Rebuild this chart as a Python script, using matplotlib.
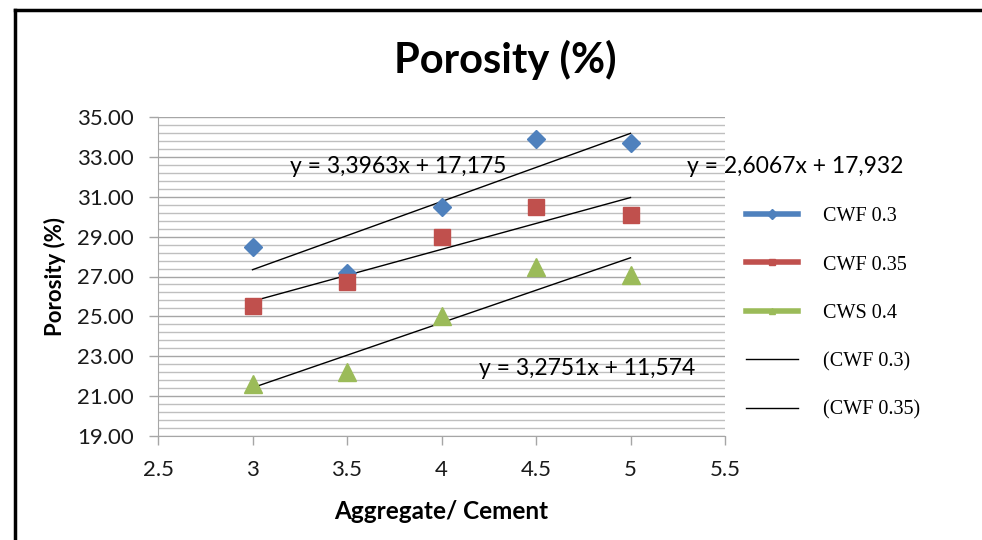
import matplotlib
matplotlib.use("Agg")
import matplotlib.pyplot as plt
import numpy as np
from matplotlib.lines import Line2D
from matplotlib.ticker import MultipleLocator, FixedLocator, FormatStrFormatter

x_vals = [3.0, 3.5, 4.0, 4.5, 5.0]
cwf03 = [28.5, 27.2, 30.5, 33.9, 33.7]
cwf035 = [25.5, 26.7, 29.0, 30.5, 30.1]
cws04 = [21.6, 22.2, 25.0, 27.5, 27.1]
series_names = ["CWF 0.3", "CWF 0.35", "CWS 0.4"]
trend_names = ["(CWF 0.3)", "(CWF 0.35)"]
eq_texts = ["y = 3,3963x + 17,175", "y = 2,6067x + 17,932", "y = 3,2751x + 11,574"]

colors = ["#4F81BD", "#C0504D", "#9BBB59"]
markers = ["D", "s", "^"]
msizes = [9, 12, 12.5]

plt.rcParams['font.family'] = ['Lato', 'DejaVu Sans']

fig = plt.figure(figsize=(9.82, 5.4), dpi=100)
ax = fig.add_axes([158/982, 1-436/540, (725-158)/982, (436-117)/540])

data = [cwf03, cwf035, cws04]
xs = np.array(x_vals)
for ys, c, m, ms in zip(data, colors, markers, msizes):
    ax.plot(xs, ys, linestyle='none', marker=m, markersize=ms, color=c, zorder=3)
    k, b = np.polyfit(xs, ys, 1)
    xf = np.array([xs.min(), xs.max()])
    ax.plot(xf, k*xf + b, color='black', lw=1, zorder=2)

ax.set_xlim(2.5, 5.5)
ax.set_ylim(19, 35)
ax.xaxis.set_major_locator(MultipleLocator(0.5))
ax.yaxis.set_major_locator(FixedLocator(np.arange(19, 35.01, 2)))
ax.yaxis.set_minor_locator(FixedLocator(np.arange(19, 35.01, 0.4)))
ax.yaxis.set_major_formatter(FormatStrFormatter('%.2f'))
ax.xaxis.set_major_formatter(FormatStrFormatter('%g'))
ax.grid(True, which='major', axis='y', color='#A6A6A6', lw=1.0, zorder=0)
ax.grid(True, which='minor', axis='y', color='#BFBFBF', lw=1.0, zorder=0)
ax.set_axisbelow(True)
for s in ['top', 'right']:
    ax.spines[s].set_visible(False)
for s in ['left', 'bottom']:
    ax.spines[s].set_color('#A6A6A6')
ax.tick_params(axis='both', which='major', labelsize=16, colors='#A6A6A6', labelcolor='#1a1a1a', length=6.5, width=1)
ax.tick_params(axis='y', which='minor', length=0)
ax.tick_params(axis='y', pad=11)
ax.tick_params(axis='x', pad=11)

ax.set_xlabel("Aggregate/ Cement", fontsize=17.5, fontweight='bold', labelpad=14)
ax.set_ylabel("Porosity (%)", fontsize=16, fontweight='bold', labelpad=8)
fig.text(505/982, 1-60/540, "Porosity (%)", fontsize=30, fontweight='bold', ha='center', va='center')

ax.text(3.2, 32.5, eq_texts[0], fontsize=16.5, va='center', ha='left')
ax.text(5.3, 32.5, eq_texts[1], fontsize=16.5, va='center', ha='left', clip_on=False)
ax.text(4.2, 22.4, eq_texts[2], fontsize=16.5, va='center', ha='left')

handles = []
for c, m in zip(colors, markers):
    handles.append(Line2D([], [], color=c, lw=4, marker=m, markersize=5))
for _ in trend_names:
    handles.append(Line2D([], [], color='black', lw=1))
leg = fig.legend(handles, series_names + trend_names, loc='upper left',
                 bbox_to_anchor=(728/982, 1-189/540), frameon=False,
                 prop={'family': 'Liberation Serif', 'size': 14.5},
                 handlelength=2.6, handletextpad=1.2, labelspacing=1.45, numpoints=1)

fig.add_artist(Line2D([15/982, 1], [1-10/540, 1-10/540], color='black', lw=2.5, transform=fig.transFigure))
fig.add_artist(Line2D([15/982, 15/982], [0, 1-10/540], color='black', lw=2.5, transform=fig.transFigure))

fig.savefig("out.png", dpi=100)
